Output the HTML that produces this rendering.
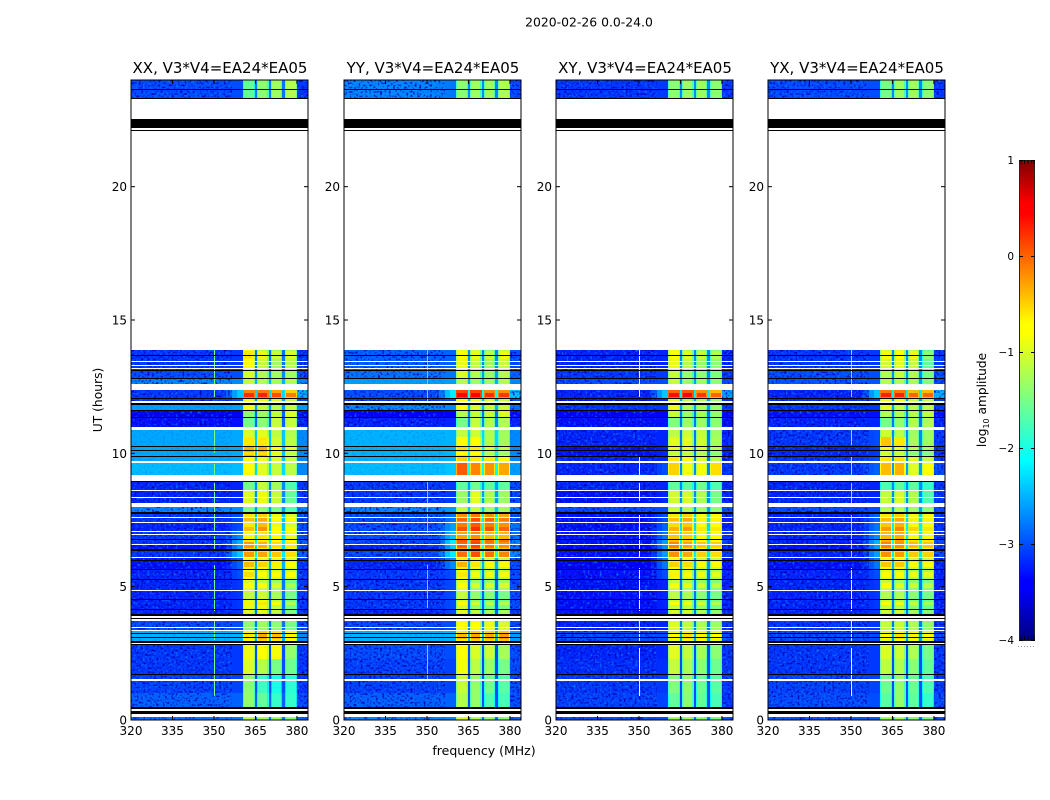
<!DOCTYPE html>
<html lang="en">
<head>
<meta charset="utf-8">
<title>2020-02-26 waterfall</title>
<style>
html,body{margin:0;padding:0;background:#fff;width:1050px;height:800px;overflow:hidden}
svg{display:block}
text{font-family:"DejaVu Sans","Liberation Sans",sans-serif;fill:#000}
</style>
</head>
<body>
<svg id="chart" width="1050" height="800" viewBox="0 0 1050 800" xmlns="http://www.w3.org/2000/svg">
  <defs>
    <filter id="speckle-light" x="0" y="0" width="100%" height="100%" color-interpolation-filters="sRGB">
      <feTurbulence type="fractalNoise" baseFrequency="0.42" numOctaves="1" seed="4"/>
      <feColorMatrix type="matrix" values="0 0 0 0 0.05  0 0 0 0 0.45  0 0 0 0 1  3.5 0 0 0 -1.85"/>
    </filter>
    <filter id="speckle-dark" x="0" y="0" width="100%" height="100%" color-interpolation-filters="sRGB">
      <feTurbulence type="fractalNoise" baseFrequency="0.46" numOctaves="1" seed="11"/>
      <feColorMatrix type="matrix" values="0 0 0 0 0  0 0 0 0 0  0 0 0 0 0.7  4 0 0 0 -2.05"/>
    </filter>
    <linearGradient id="jet-gradient" x1="0" y1="1" x2="0" y2="0"></linearGradient>
  </defs>
  <text x="589" y="26.5" text-anchor="middle" font-size="12.4">2020-02-26 0.0-24.0</text>
  <text transform="translate(102,400) rotate(-90)" text-anchor="middle" font-size="12.3">UT (hours)</text>
  <text x="484" y="755" text-anchor="middle" font-size="12.5">frequency (MHz)</text>
  <g id="panels"></g>
  <g id="colorbar">
    <rect x="1019.5" y="160.5" width="15" height="480" fill="url(#jet-gradient)" stroke="#222" stroke-width="1"/>
    <line x1="1018" x2="1035" y1="646.5" y2="646.5" stroke="#999" stroke-width="1" stroke-dasharray="1 2"/>
    <text transform="translate(986,400) rotate(-90)" text-anchor="middle" font-size="12.2">log<tspan font-size="8" dy="3">10</tspan><tspan dy="-3"> amplitude</tspan></text>
  </g>
</svg>
<script>
// ---- shared axes data ----
const panelTitles = ["XX, V3*V4=EA24*EA05", "YY, V3*V4=EA24*EA05", "XY, V3*V4=EA24*EA05", "YX, V3*V4=EA24*EA05"];
const freqTicks = [320, 335, 350, 365, 380];
const hourTicks = [0, 5, 10, 15, 20];
const colorTicks = [1, 0, -1, -2, -3, -4];
const colorTickLabels = ["1", "0", "\u22121", "\u22122", "\u22123", "\u22124"];

// time rows: start / end in UT hours (top to bottom)
const rowStart = [24,13.87,13.12,12.82,12.37,12.06,11.88,11.62,11.35,10.87,10.6,10.25,9.88,9.65,8.96,8.6,7.97,7.75,7.43,7.06,6.77,6.58,6.37,6.1,5.65,5.26,4.86,4.52,4.15,3.88,3.33,2.85,2.3,1.71,1.0,0.12];
const rowEnd   = [23.31,13.12,12.82,12.6,12.06,11.88,11.62,11.35,11.0,10.6,10.25,9.88,9.65,9.19,8.6,8.15,7.75,7.43,7.06,6.77,6.58,6.37,6.1,5.65,5.26,4.86,4.52,4.15,3.9,3.33,2.87,2.3,1.71,1.0,0.5,0];

// frequency groups in MHz
const bandStart = [360.6, 365.65, 370.55, 375.6];
const bandEnd   = [364.85, 369.75, 374.75, 380];

// log10 amplitude per row: [background, ramp, band1, band2, band3, band4, edge, gap]
const xxLevels = [
[-3.0,-3.0,-1.6,-1.4,-1.3,-1.2,-3.1,-2.8],
[-3.1,-3.1,-0.8,-1.1,-1.3,-1.2,-3.1,-2.8],
[-3.0,-3.0,-1.0,-1.2,-1.3,-1.3,-3.0,-2.7],
[-2.7,-2.7,-1.1,-1.2,-1.3,-1.2,-2.7,-2.5],
[-3.1,-2.4,0.25,0.3,0.1,-0.1,-2.5,-2.3],
[-3.1,-3.0,-0.9,-0.9,-1.0,-1.1,-3.0,-2.6],
[-2.6,-2.6,-0.9,-1.1,-1.2,-1.1,-2.6,-2.6],
[-3.5,-3.5,-1.4,-1.3,-1.1,-1.0,-3.3,-2.9],
[-3.3,-3.3,-1.5,-1.4,-1.1,-1.1,-3.2,-2.9],
[-2.55,-2.55,-1.0,-0.95,-1.15,-1.2,-2.7,-2.4],
[-2.55,-2.55,-0.6,-0.6,-1.05,-1.15,-2.7,-2.4],
[-2.55,-2.55,-0.35,-0.35,-0.75,-0.95,-2.7,-2.4],
[-2.55,-2.55,-0.8,-0.9,-1.0,-1.1,-2.7,-2.4],
[-2.45,-2.45,-0.75,-0.95,-1.1,-1.15,-2.7,-2.3],
[-3.2,-3.2,-1.5,-1.1,-1.3,-1.7,-3.1,-2.7],
[-3.2,-3.2,-1.0,-0.9,-1.1,-1.6,-3.1,-2.7],
[-2.7,-2.7,-1.5,-1.4,-1.5,-1.7,-2.7,-2.6],
[-3.1,-3.0,-0.6,-0.5,-0.9,-1.0,-3.0,-2.4],
[-3.2,-3.0,-0.6,-0.4,-0.9,-1.0,-3.0,-2.4],
[-3.1,-2.7,-0.7,-0.6,-0.8,-0.9,-3.0,-2.2],
[-3.1,-2.5,-0.6,-0.6,-0.75,-0.85,-2.9,-2.2],
[-3.3,-2.6,-0.55,-0.65,-0.85,-0.9,-3.0,-2.3],
[-3.1,-2.4,-0.55,-0.6,-0.75,-0.85,-2.9,-2.2],
[-3.3,-2.9,-0.7,-0.8,-0.95,-1.0,-3.1,-2.5],
[-3.2,-3.0,-0.85,-1.0,-1.05,-1.1,-3.1,-2.7],
[-3.2,-3.1,-1.0,-1.1,-1.3,-1.5,-3.1,-2.8],
[-3.2,-3.1,-1.1,-1.05,-1.25,-1.5,-3.1,-2.8],
[-3.2,-3.1,-0.95,-0.9,-1.15,-1.5,-3.1,-2.8],
[-3.2,-3.1,-1.2,-1.15,-1.4,-1.7,-3.1,-2.8],
[-3.0,-3.0,-1.4,-1.3,-1.4,-1.5,-3.0,-2.8],
[-2.5,-2.5,-0.8,-0.5,-0.6,-0.85,-2.7,-2.5],
[-3.1,-3.1,-0.9,-0.8,-0.85,-1.35,-3.1,-3.0],
[-3.1,-3.1,-1.0,-1.2,-1.5,-1.55,-3.1,-3.0],
[-3.05,-3.05,-1.4,-1.8,-2.0,-1.9,-3.1,-3.0],
[-2.9,-2.9,-1.35,-1.6,-1.85,-1.85,-3.0,-2.9],
[-2.8,-2.8,-1.15,-1.25,-1.3,-1.4,-2.9,-2.8]];
const yyLevels = [
[-2.7,-2.8,-1.4,-1.3,-1.3,-1.2,-3.0,-2.7],
[-2.9,-2.9,-0.9,-1.1,-1.3,-1.1,-3.0,-2.7],
[-2.8,-2.8,-1.0,-1.2,-1.3,-1.2,-2.9,-2.6],
[-2.6,-2.6,-1.2,-1.3,-1.3,-1.2,-2.7,-2.5],
[-3.0,-2.2,0.55,0.55,0.25,0.2,-2.4,-2.1],
[-3.1,-3.0,-0.8,-0.9,-1.0,-1.1,-3.0,-2.5],
[-2.7,-2.7,-0.7,-1.0,-1.1,-1.1,-2.8,-2.5],
[-3.4,-3.4,-1.2,-1.1,-1.1,-1.0,-3.3,-2.8],
[-3.2,-3.2,-1.5,-1.1,-1.2,-1.2,-3.2,-2.7],
[-2.5,-2.5,-1.1,-1.05,-1.2,-1.3,-2.7,-2.3],
[-2.5,-2.5,-0.8,-0.7,-1.2,-1.3,-2.7,-2.3],
[-2.5,-2.5,-0.55,-0.6,-1.0,-1.1,-2.7,-2.2],
[-2.5,-2.5,-0.5,-0.6,-0.6,-0.75,-2.7,-2.2],
[-2.45,-2.4,0.05,-0.15,-0.2,-0.3,-2.6,-2.1],
[-3.1,-3.1,-1.6,-1.5,-1.6,-1.6,-3.0,-2.6],
[-3.1,-3.1,-1.3,-0.95,-1.2,-1.3,-3.0,-2.6],
[-2.7,-2.6,-1.1,-1.1,-1.3,-1.3,-2.7,-2.4],
[-3.0,-2.8,-0.2,-0.1,-0.2,-0.3,-2.9,-2.2],
[-3.0,-2.6,-0.1,0.05,-0.1,-0.2,-2.8,-2.1],
[-3.0,-2.4,-0.3,-0.2,-0.4,-0.4,-2.8,-2.0],
[-3.0,-2.2,0.05,0.1,-0.05,-0.05,-2.7,-2.0],
[-3.2,-2.4,-0.3,-0.15,-0.4,-0.5,-2.8,-2.0],
[-3.0,-2.2,-0.35,-0.2,-0.35,-0.45,-2.7,-2.0],
[-3.2,-2.7,-0.65,-0.9,-1.0,-1.05,-3.0,-2.5],
[-3.1,-3.0,-0.9,-1.15,-1.15,-1.15,-3.0,-2.8],
[-3.1,-3.0,-1.0,-1.3,-1.3,-1.3,-3.0,-2.9],
[-3.1,-3.0,-1.1,-1.35,-1.4,-1.5,-3.0,-2.9],
[-3.1,-3.0,-1.05,-1.35,-1.45,-1.5,-3.0,-2.9],
[-3.2,-3.0,-1.2,-1.35,-1.45,-1.5,-3.1,-2.9],
[-3.0,-3.0,-0.75,-0.8,-0.9,-1.0,-3.0,-2.7],
[-2.5,-2.5,-0.6,-0.5,-0.5,-0.45,-2.6,-2.5],
[-3.0,-3.0,-0.7,-1.0,-1.05,-1.25,-3.0,-3.0],
[-3.05,-3.05,-0.85,-1.15,-1.3,-1.5,-3.0,-3.0],
[-3.05,-3.05,-1.1,-1.35,-1.5,-1.65,-3.0,-3.0],
[-2.9,-2.9,-1.2,-1.35,-1.7,-1.75,-3.0,-3.0],
[-2.7,-2.7,-1.0,-1.2,-1.3,-1.4,-2.9,-2.8]];
const xyLevels = [
[-3.1,-3.1,-1.4,-1.3,-1.3,-1.4,-3.1,-2.7],
[-3.2,-3.2,-0.9,-1.15,-1.3,-1.4,-3.2,-2.7],
[-3.1,-3.1,-1.1,-1.3,-1.35,-1.45,-3.1,-2.7],
[-3.0,-3.0,-1.1,-1.3,-1.3,-1.4,-3.0,-2.6],
[-3.2,-2.4,0.4,0.45,0.2,0.0,-2.6,-2.2],
[-3.3,-3.2,-0.95,-1.15,-1.2,-1.3,-3.2,-2.6],
[-3.1,-3.1,-0.9,-1.2,-1.25,-1.35,-3.1,-2.6],
[-3.4,-3.4,-1.1,-1.3,-1.25,-1.35,-3.4,-2.8],
[-3.3,-3.3,-1.45,-1.3,-1.3,-1.4,-3.3,-2.8],
[-3.2,-3.2,-1.15,-1.05,-1.1,-1.3,-3.2,-2.8],
[-3.2,-3.2,-0.95,-0.95,-1.05,-1.25,-3.2,-2.8],
[-3.3,-3.2,-0.9,-0.9,-1.0,-1.2,-3.2,-2.8],
[-3.2,-3.2,-0.6,-0.7,-1.0,-1.2,-3.2,-2.8],
[-3.2,-3.0,-0.5,-0.85,-0.85,-0.55,-3.1,-2.7],
[-3.2,-3.2,-1.6,-1.6,-1.5,-1.7,-3.2,-2.7],
[-3.3,-3.2,-1.05,-1.0,-1.2,-1.5,-3.2,-2.7],
[-3.0,-3.0,-1.1,-1.2,-1.3,-1.4,-3.0,-2.6],
[-3.3,-3.0,-0.6,-0.5,-0.85,-0.85,-3.2,-2.3],
[-3.3,-2.9,-0.55,-0.45,-0.8,-0.8,-3.2,-2.3],
[-3.3,-2.8,-0.45,-0.5,-0.8,-0.75,-3.1,-2.2],
[-3.3,-2.6,-0.4,-0.45,-0.65,-0.75,-3.1,-2.2],
[-3.4,-2.7,-0.45,-0.6,-0.75,-0.8,-3.2,-2.3],
[-3.3,-2.6,-0.5,-0.6,-0.8,-0.85,-3.1,-2.2],
[-3.4,-2.8,-0.8,-0.85,-1.05,-1.1,-3.3,-2.6],
[-3.3,-3.0,-0.95,-1.05,-1.2,-1.25,-3.2,-2.8],
[-3.3,-3.2,-1.1,-1.2,-1.35,-1.45,-3.2,-2.8],
[-3.3,-3.2,-1.15,-1.2,-1.4,-1.5,-3.2,-2.8],
[-3.3,-3.2,-1.1,-1.15,-1.35,-1.5,-3.2,-2.8],
[-3.3,-3.2,-1.25,-1.25,-1.45,-1.6,-3.2,-2.8],
[-3.2,-3.2,-1.0,-1.1,-1.2,-1.3,-3.1,-2.8],
[-3.0,-3.0,-0.9,-0.75,-0.85,-0.95,-3.0,-2.6],
[-3.2,-3.2,-0.95,-1.1,-1.25,-1.4,-3.1,-3.0],
[-3.15,-3.15,-1.1,-1.25,-1.4,-1.55,-3.1,-3.0],
[-3.1,-3.1,-1.45,-1.35,-1.55,-1.65,-3.1,-3.0],
[-3.05,-3.05,-1.6,-1.4,-1.6,-1.75,-3.1,-3.0],
[-3.0,-3.0,-1.25,-1.25,-1.35,-1.5,-3.0,-2.8]];
const yxLevels = [
[-3.0,-3.0,-1.5,-1.3,-1.3,-1.4,-3.1,-2.7],
[-3.1,-3.1,-1.05,-0.95,-1.1,-1.6,-3.1,-2.7],
[-3.0,-3.0,-1.2,-1.1,-1.2,-1.5,-3.0,-2.7],
[-2.95,-2.95,-1.2,-1.2,-1.25,-1.45,-3.0,-2.6],
[-3.2,-2.4,0.3,0.3,0.0,0.0,-2.5,-2.2],
[-3.2,-3.1,-0.9,-0.85,-1.05,-1.1,-3.1,-2.6],
[-3.1,-3.1,-0.95,-1.1,-1.2,-1.15,-3.1,-2.6],
[-3.3,-3.3,-1.2,-1.2,-1.2,-1.15,-3.3,-2.8],
[-3.2,-3.2,-1.5,-1.35,-1.2,-1.2,-3.2,-2.8],
[-3.1,-3.0,-1.05,-1.15,-1.3,-1.3,-3.1,-2.7],
[-3.1,-3.0,-0.45,-0.6,-1.25,-1.3,-3.1,-2.7],
[-3.2,-3.1,-0.85,-0.9,-1.15,-1.25,-3.1,-2.7],
[-3.1,-3.0,-0.6,-0.55,-0.95,-1.1,-3.1,-2.7],
[-3.1,-2.9,-0.4,-0.35,-0.95,-0.75,-3.0,-2.6],
[-3.2,-3.2,-1.7,-1.6,-1.6,-1.85,-3.1,-2.7],
[-3.2,-3.2,-1.1,-1.0,-1.2,-1.7,-3.1,-2.7],
[-3.0,-3.0,-1.2,-1.2,-1.3,-1.4,-3.0,-2.6],
[-3.2,-2.9,-0.6,-0.5,-0.85,-0.85,-3.1,-2.3],
[-3.2,-2.8,-0.45,-0.35,-0.7,-0.8,-3.1,-2.2],
[-3.2,-2.7,-0.4,-0.35,-0.7,-0.8,-3.1,-2.2],
[-3.2,-2.5,-0.35,-0.25,-0.55,-0.6,-3.0,-2.1],
[-3.3,-2.6,-0.45,-0.5,-0.7,-0.75,-3.1,-2.2],
[-3.2,-2.6,-0.5,-0.55,-0.75,-0.8,-3.0,-2.2],
[-3.3,-2.8,-0.75,-0.75,-1.05,-1.1,-3.2,-2.5],
[-3.2,-3.0,-1.0,-1.05,-1.2,-1.25,-3.2,-2.8],
[-3.2,-3.1,-1.1,-1.25,-1.35,-1.45,-3.2,-2.8],
[-3.2,-3.1,-1.2,-1.2,-1.4,-1.5,-3.2,-2.8],
[-3.2,-3.1,-1.1,-1.2,-1.4,-1.55,-3.2,-2.8],
[-3.2,-3.1,-1.3,-1.3,-1.5,-1.65,-3.2,-2.8],
[-3.1,-3.1,-1.1,-1.1,-1.2,-1.35,-3.1,-2.8],
[-3.0,-3.0,-0.95,-0.75,-0.85,-1.0,-3.0,-2.6],
[-3.1,-3.1,-1.0,-1.05,-1.2,-1.5,-3.1,-3.0],
[-3.1,-3.1,-1.15,-1.2,-1.4,-1.6,-3.1,-3.0],
[-3.05,-3.05,-1.55,-1.35,-1.55,-1.7,-3.1,-3.0],
[-3.0,-3.0,-1.65,-1.35,-1.6,-1.85,-3.0,-3.0],
[-2.95,-2.95,-1.3,-1.25,-1.35,-1.5,-3.0,-2.8]];
const panelLevels = [xxLevels, yyLevels, xyLevels, yxLevels];

// amplitude pulses inside the bands: hour start, hour end, level change (log10)
const pulseStart = [13.85,12.37,12.1,10.05,7.6,7.25,6.67,6.3,5.92,5.55,5.14,4.42,4.12,3.25];
const pulseEnd   = [13.55,12.28,12.06,9.95,7.45,7.1,6.45,6.11,5.74,5.36,4.95,4.31,4.01,3.05];
const pulseDelta = [0.2,-0.4,-0.4,-0.2,0.2,0.2,0.3,0.3,0.3,0.3,0.3,0.3,0.25,0.2];

// narrow interference line near 350 MHz: [start hour, end hour] per panel, plus its level
const spikeFreq = 350;
const spikeLevels = [-1.55, -2.1, -2.0, -1.7];
const spikeWhiteBelowHour = [0, 0, 24, 5.8];
const xxSpike = [[13.87,12.4],[12.37,12.1],[10.9,10.0],[9.6,9.2],[8.9,8.6],[8.55,7.1],[6.9,6.4],[5.8,4.1],[3.8,3.0],[2.8,0.9]];
const yySpike = [[13.87,11.9],[9.0,7.0],[5.8,4.2],[2.8,1.5]];
const xySpike = [[13.87,12.6],[12.4,12.1],[9.9,9.2],[8.9,8.2],[7.7,6.1],[5.7,4.1],[3.8,2.9],[2.7,0.9]];
const yxSpike = [[13.87,12.6],[12.4,12.1],[10.9,10.3],[9.9,9.2],[8.9,8.1],[7.7,6.1],[5.7,4.1],[3.8,2.9],[2.7,0.9]];
const panelSpikes = [xxSpike, yySpike, xySpike, yxSpike];

// flagged time ranges common to all panels, in UT hours
const whiteFlags = [[23.31,22.54],[22.2,22.14],[22.10,13.87],[13.46,13.42],[13.33,13.29],[13.21,13.17],[12.6,12.37],[11.96,11.88],[11.0,10.87],[9.72,9.65],[9.19,8.96],[8.63,8.59],[8.38,8.34],[8.15,7.97],[7.62,7.58],[7.44,7.40],[7.08,7.04],[6.99,6.95],[6.6,6.56],[6.12,6.08],[4.88,4.84],[3.88,3.84],[3.77,3.73],[3.5,3.45],[3.37,3.33],[2.89,2.85],[1.52,1.46],[0.42,0.34],[0.23,0.12]];
const blackFlags = [[23.65,23.61],[23.33,23.28],[22.54,22.2],[22.14,22.10],[13.69,13.65],[13.11,13.07],[12.84,12.8],[12.08,12.04],[11.87,11.83],[11.64,11.6],[11.37,11.33],[10.27,10.23],[10.13,10.09],[9.9,9.86],[8.96,8.92],[7.79,7.73],[6.79,6.75],[6.4,6.33],[6.01,5.97],[5.67,5.63],[5.28,5.24],[4.54,4.5],[4.17,4.13],[3.99,3.9],[3.82,3.78],[3.27,3.23],[3.11,3.07],[2.97,2.93],[2.91,2.89],[2.85,2.83],[1.73,1.69],[0.5,0.43],[0.33,0.23]];

// jet colormap anchors
const jetStops = [0, 0.11, 0.125, 0.35, 0.375, 0.64, 0.66, 0.89, 0.91, 1];
const jetRed   = [0, 0, 0, 0, 0, 1, 1, 1, 1, 0.5];
const jetGreen = [0, 0, 0, 0.9, 1, 1, 1, 0, 0, 0];
const jetBlue  = [0.5, 1, 1, 1, 1, 0, 0, 0, 0, 0];

// ---- layout & scales ----
const panelLeft = [131, 344, 556, 768];
const panelWidth = 177, plotTop = 80, plotBottom = 720;
const freqMin = 320, freqMax = 384, hourMax = 24;
const cmin = -4, cmax = 1, cbTop = 160, cbBottom = 640;
const bandRolloff = 0.4, bandEdgeMHz = 0.4;
const xScale = (p, f) => panelLeft[p] + (f - freqMin) / (freqMax - freqMin) * panelWidth;
const yScale = h => plotBottom - h / hourMax * (plotBottom - plotTop);
const cbScale = v => cbBottom - (v - cmin) / (cmax - cmin) * (cbBottom - cbTop);

function interp(xs, ys, x) {
  for (let i = 1; i < xs.length; i++) {
    if (x <= xs[i]) return ys[i-1] + (ys[i] - ys[i-1]) * (x - xs[i-1]) / (xs[i] - xs[i-1]);
  }
  return ys[ys.length - 1];
}
function colorOf(v) {
  const t = Math.max(0, Math.min(1, (v - cmin) / (cmax - cmin)));
  const c = a => Math.round(255 * interp(jetStops, a, t));
  return 'rgb(' + c(jetRed) + ',' + c(jetGreen) + ',' + c(jetBlue) + ')';
}
const NS = 'http://www.w3.org/2000/svg';
function mk(tag, attrs, parent) {
  const el = document.createElementNS(NS, tag);
  for (const k in attrs) el.setAttribute(k, attrs[k]);
  parent.appendChild(el);
  return el;
}
const panelsGroup = document.getElementById('panels');

function cell(p, f0, f1, h0, h1, v, g) {
  const x0 = Math.round(xScale(p, f0)), x1 = Math.round(xScale(p, f1));
  const y0 = Math.round(yScale(h0)), y1 = Math.round(yScale(h1));
  const el = mk('rect', {x: x0, y: y0, width: Math.max(1, x1 - x0), height: Math.max(1, y1 - y0), fill: colorOf(v), 'shape-rendering': 'crispEdges'}, g);
  
  
}
function flagRect(p, range, fill, g) {
  const y0 = Math.round(yScale(range[0]));
  const y1 = Math.max(y0 + 1, Math.round(yScale(range[1])));
  return mk('rect', {x: panelLeft[p], y: y0, width: panelWidth, height: y1 - y0, fill: fill, 'shape-rendering': 'crispEdges'}, g);
}

panelTitles.forEach((title, p) => {
  const g = mk('g', {}, panelsGroup);
  
  
  const clipId = 'clip-' + p;
  const defs = mk('clipPath', {id: clipId}, g);
  mk('rect', {x: panelLeft[p], y: plotTop, width: panelWidth, height: plotBottom - plotTop}, defs);
  const plot = mk('g', {'clip-path': 'url(#' + clipId + ')'}, g);
  
  

  const levels = panelLevels[p];
  rowStart.forEach((h0, r) => {
    const h1 = rowEnd[r], L = levels[r];
    const bg = L[0], ramp = L[1], edge = L[6], gap = L[7];
    cell(p, freqMin, 354.5, h0, h1, bg, plot);
    cell(p, 354.5, 356.5, h0, h1, bg + (ramp - bg) * 0.3, plot);
    cell(p, 356.5, 358.5, h0, h1, bg + (ramp - bg) * 0.7, plot);
    cell(p, 358.5, bandStart[0], h0, h1, ramp, plot);
    cell(p, bandEnd[3], freqMax, h0, h1, edge, plot);

    // noise over off-band channels, fainter where the sky level is high
    const noise = bg >= -2.65 ? 0.14 : 1;
    [[freqMin, 356.5], [bandEnd[3], freqMax]].forEach(range => {
      ['speckle-light', 'speckle-dark'].forEach(f => {
        const y0 = Math.round(yScale(h0)), y1 = Math.round(yScale(h1));
        const s = mk('rect', {x: xScale(p, range[0]), y: y0, width: xScale(p, range[1]) - xScale(p, range[0]), height: y1 - y0, fill: '#000', filter: 'url(#' + f + ')', opacity: noise}, plot);
        
        
      });
    });

    // sub-bands: roll-off at the edges, flat in the middle
    bandStart.forEach((f, b) => {
      const v = L[2 + b];
      cell(p, f, bandEnd[b], h0, h1, v - bandRolloff, plot);
      cell(p, f + bandEdgeMHz, bandEnd[b] - bandEdgeMHz, h0, h1, v, plot);
    });

    // amplitude pulses that fall in this row
    pulseStart.forEach((ps, k) => {
      const mid = (ps + pulseEnd[k]) / 2;
      if (mid <= h0 && mid > h1) {
        bandStart.forEach((f, b) => {
          cell(p, f + bandEdgeMHz, bandEnd[b] - bandEdgeMHz, ps, pulseEnd[k], L[2 + b] + pulseDelta[k], plot);
        });
      }
    });

    // gaps between the sub-bands
    bandEnd.slice(0, 3).forEach((f, b) => {
      cell(p, f, bandStart[b + 1], h0, h1, gap, plot);
    });
  });

  // interference line
  panelSpikes[p].forEach(seg => {
    const white = seg[0] <= spikeWhiteBelowHour[p];
    const y0 = Math.round(yScale(seg[0])), y1 = Math.round(yScale(seg[1]));
    const s = mk('rect', {x: Math.round(xScale(p, spikeFreq)), y: y0, width: 1, height: y1 - y0, fill: white ? '#d8f4ff' : colorOf(spikeLevels[p]), 'shape-rendering': 'crispEdges'}, plot);
    
    
  });

  // flagged rows
  whiteFlags.forEach(fl => {
    const s = flagRect(p, fl, '#fff', plot);
    
    
  });
  blackFlags.forEach(fl => {
    const s = flagRect(p, fl, '#000', plot);
    
    
  });

  // frame
  const frame = mk('rect', {x: panelLeft[p], y: plotTop, width: panelWidth, height: plotBottom - plotTop, fill: 'none', stroke: '#000', 'stroke-width': 1}, g);
  
  

  // title
  const t = mk('text', {x: panelLeft[p] + panelWidth / 2 + 0.5, y: 73, 'text-anchor': 'middle', 'font-size': 15}, g);
  
  
  t.textContent = title;

  // x ticks
  freqTicks.forEach(f => {
    const x = xScale(p, f);
    const a = mk('line', {x1: x, x2: x, y1: plotBottom, y2: plotBottom - 4, stroke: '#000'}, g);
    
    
    const b = mk('line', {x1: x, x2: x, y1: plotTop, y2: plotTop + 4, stroke: '#000'}, g);
    
    
    const l = mk('text', {x: x, y: 735, 'text-anchor': 'middle', 'font-size': 12}, g);
    
    
    l.textContent = f;
  });
  // y ticks
  hourTicks.forEach(h => {
    const y = yScale(h);
    const a = mk('line', {x1: panelLeft[p], x2: panelLeft[p] + 4, y1: y, y2: y, stroke: '#000'}, g);
    
    
    const b = mk('line', {x1: panelLeft[p] + panelWidth, x2: panelLeft[p] + panelWidth - 4, y1: y, y2: y, stroke: '#000'}, g);
    
    
    const l = mk('text', {x: panelLeft[p] - 4, y: y + 4.5, 'text-anchor': 'end', 'font-size': 12}, g);
    
    
    l.textContent = h;
  });
});

// ---- colorbar ----
const grad = document.getElementById('jet-gradient');
jetStops.forEach(s => {
  mk('stop', {offset: s, 'stop-color': colorOf(cmin + s * (cmax - cmin))}, grad);
});
const cb = document.getElementById('colorbar');
colorTicks.forEach((v, i) => {
  const y = cbScale(v);
  const a = mk('line', {x1: 1019, x2: 1023, y1: y + 0.5, y2: y + 0.5, stroke: '#000'}, cb);
  
  
  const b = mk('line', {x1: 1035, x2: 1031, y1: y + 0.5, y2: y + 0.5, stroke: '#000'}, cb);
  
  
  const l = mk('text', {x: 1014, y: y + 4, 'text-anchor': 'end', 'font-size': 10.5}, cb);
  
  
  l.textContent = colorTickLabels[i];
});
const minorTickOffsets = [1, 4.5, 8, 11.5, 14];
minorTickOffsets.forEach(d => {
  const a = mk('line', {x1: 1020 + d, x2: 1020 + d, y1: cbTop, y2: cbTop + 4, stroke: '#000', 'stroke-width': 0.8}, cb);
  
  
  const b = mk('line', {x1: 1020 + d, x2: 1020 + d, y1: cbBottom, y2: cbBottom - 4, stroke: '#000', 'stroke-width': 0.8}, cb);
  
  
});
</script>
</body>
</html>
